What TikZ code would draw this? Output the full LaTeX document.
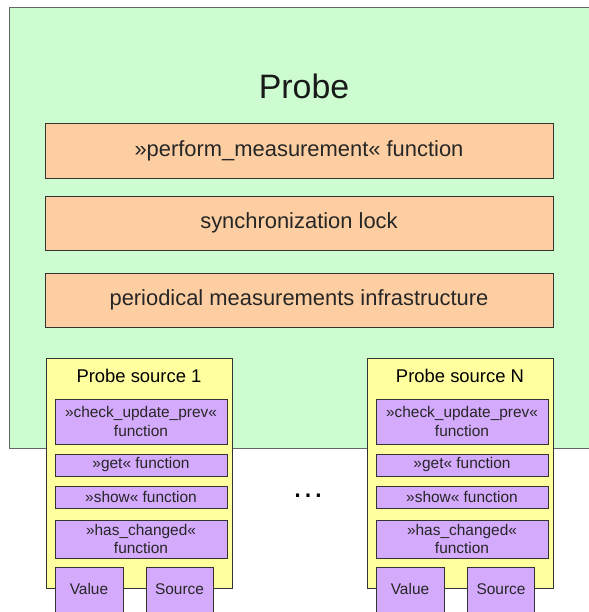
\documentclass[tikz,border=0pt]{standalone}
\usepackage{fontspec}
\setmainfont{Liberation Sans}
\definecolor{probegreen}{RGB}{204,252,208}
\definecolor{funcorange}{RGB}{252,206,162}
\definecolor{srcyellow}{RGB}{255,255,160}
\definecolor{funcpurple}{RGB}{212,170,252}
\begin{document}
\begin{tikzpicture}[x=1bp,y=-1bp,
  box/.style={draw=black!80, line width=0.9bp, inner sep=0pt, align=center, text=black!85},
  outer/.style={box, draw=black!60, fill=probegreen},
  func/.style={box, fill=funcorange, minimum width=508bp, minimum height=54bp, font=\fontsize{22}{26}\selectfont},
  src/.style={box, fill=srcyellow, minimum width=186bp, minimum height=230bp},
  sub/.style={box, fill=funcpurple, minimum width=172bp, font=\fontsize{15.5}{18.5}\selectfont},
  small/.style={box, fill=funcpurple, minimum height=60bp, anchor=north, text height=11bp, text depth=16bp, font=\fontsize{15.5}{18.5}\selectfont}]
  \clip (0,0) rectangle (589,612);
  \useasboundingbox (0,0) rectangle (589,612);

  % probe
  \node[outer, minimum width=583bp, minimum height=441bp] (probe) at (300.5,227.5) {};
  \node[font=\fontsize{34}{40}\selectfont, text=black!90] (title) at (304,86) {Probe};
  \node[func, minimum height=55bp] (perf) at (299,150.5) {»perform\_measurement« function};
  \node[func] (lock) at (299,223) {synchronization lock};
  \node[func] (period) at (299,300) {periodical measurements infrastructure};

  % probe source 1
  \node[src] (src1) at (139,473) {};
  \node[font=\fontsize{18.5}{22}\selectfont, anchor=base] (t1) at (139,382) {Probe source 1};
  \node[sub, minimum height=45bp] (chk1) at (141,421.5) {»check\_update\_prev«\\function};
  \node[sub, minimum height=22bp] (get1) at (141,465) {»get« function};
  \node[sub, minimum height=22bp] (show1) at (141,497) {»show« function};
  \node[sub, minimum height=38bp] (chg1) at (141,539) {»has\_changed«\\function};
  \node[small, minimum width=68bp] (val1) at (89,567) {Value};
  \node[small, minimum width=67bp] (s1) at (179.5,567) {Source};

  % probe source N
  \node[src] (srcN) at (460,473) {};
  \node[font=\fontsize{18.5}{22}\selectfont, anchor=base] (tN) at (460,382) {Probe source N};
  \node[sub, minimum height=45bp] (chkN) at (462,421.5) {»check\_update\_prev«\\function};
  \node[sub, minimum height=22bp] (getN) at (462,465) {»get« function};
  \node[sub, minimum height=22bp] (showN) at (462,497) {»show« function};
  \node[sub, minimum height=38bp] (chgN) at (462,539) {»has\_changed«\\function};
  \node[small, minimum width=68bp] (valN) at (410,567) {Value};
  \node[small, minimum width=67bp] (sN) at (501,567) {Source};

  \node[font=\fontsize{33}{36}\selectfont] (dots) at (308,496) {…};
\end{tikzpicture}
\end{document}
